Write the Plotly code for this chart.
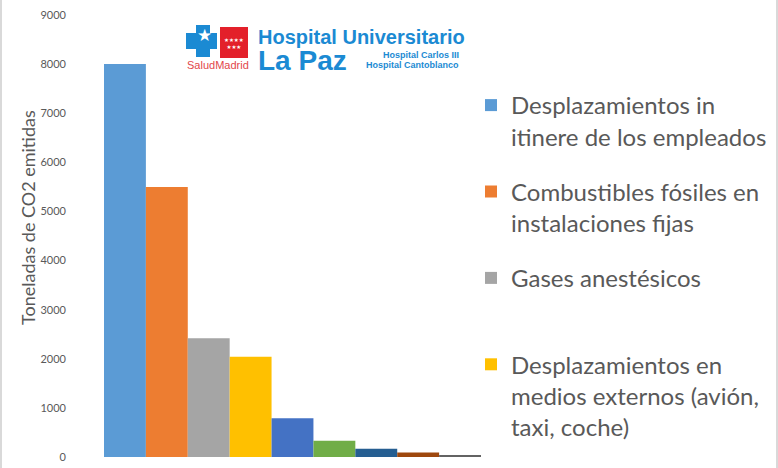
import plotly.graph_objects as go

W, H = 778, 468

categories = [
    "Desplazamientos in<br>itinere de los empleados",
    "Combustibles fósiles en<br>instalaciones fijas",
    "Gases anestésicos<br>\u00a0",
    "Desplazamientos en<br>medios externos (avión,<br>taxi, coche)",
    "Otra fuente 5",
    "Otra fuente 6",
    "Otra fuente 7",
    "Otra fuente 8",
    "Otra fuente 9",
]
values = [8000, 5500, 2420, 2040, 790, 330, 170, 90, 30]
colors = ["#5B9BD5", "#ED7D31", "#A5A5A5", "#FFC000", "#4472C4",
          "#70AD47", "#255E91", "#9E480E", "#636363"]
in_legend = [True, True, True, True, False, False, False, False, False]
y_ticks = [0, 1000, 2000, 3000, 4000, 5000, 6000, 7000, 8000, 9000]
y_title = "Toneladas de CO2 emitidas"


def px(x):
    return x / W


def py(y):
    return 1 - y / H


fig = go.Figure()
for i, (c, v, col, leg) in enumerate(zip(categories, values, colors, in_legend)):
    fig.add_trace(go.Bar(
        x=[i], y=[v], name=c, width=1,
        marker=dict(color=col, line=dict(width=0)),
        showlegend=leg, legendgroup=f"g{i}",
    ))

TXT = "#595959"
FONT = "Lato"

fig.update_layout(
    width=W, height=H,
    margin=dict(l=0, r=0, t=0, b=0, autoexpand=False),
    paper_bgcolor="white", plot_bgcolor="white",
    barmode="overlay",
    xaxis=dict(domain=[px(104), px(481)], range=[-0.5, 8.5],
               showticklabels=False, showgrid=False, zeroline=False,
               showline=False, fixedrange=True),
    yaxis=dict(domain=[py(457), py(15)], range=[0, 9000],
               anchor="free", position=px(66),
               tickvals=y_ticks, ticktext=[str(t) for t in y_ticks],
               tickfont=dict(family=FONT, size=11, color=TXT),
               showgrid=False, zeroline=False, showline=False),
    legend=dict(x=px(471), y=py(83), xanchor="left", yanchor="top",
                font=dict(family=FONT, size=24, color=TXT),
                valign="top", tracegroupgap=21, traceorder="grouped",
                bgcolor="rgba(0,0,0,0)"),
    showlegend=True,
)

ann = []
ann.append(dict(text=y_title, x=px(28), y=py(218), xref="paper", yref="paper",
                xanchor="center", yanchor="middle",
                textangle=-90, showarrow=False,
                font=dict(family=FONT, size=18, color=TXT)))

BLUE = "#1B8AD3"
RED = "#E3202A"
LOGO = "Liberation Sans"
ann += [
    dict(text="<b>Hospital Universitario</b><br><b><span style='font-size:28px'>La Paz</span></b>",
         x=px(256), y=py(24), xanchor="left", yanchor="top", align="left",
         showarrow=False, font=dict(family=LOGO, size=20, color=BLUE)),
    dict(text="<b>Hospital Carlos III</b>", x=px(461), y=py(55), xanchor="right",
         yanchor="middle", showarrow=False, font=dict(family=LOGO, size=9, color=BLUE)),
    dict(text="<b>Hospital Cantoblanco</b>", x=px(461), y=py(65), xanchor="right",
         yanchor="middle", showarrow=False, font=dict(family=LOGO, size=9, color=BLUE)),
    dict(text="SaludMadrid", x=px(185), y=py(65), xanchor="left",
         yanchor="middle", showarrow=False, font=dict(family=LOGO, size=11, color="#E2474B")),
    dict(text="★★★★<br>★★★", x=px(234), y=py(43), xanchor="center",
         yanchor="middle", showarrow=False,
         font=dict(family="DejaVu Sans", size=5.5, color="white")),
    dict(text="★", x=px(204), y=py(35), xanchor="center",
         yanchor="middle", showarrow=False, font=dict(family="DejaVu Sans", size=17, color="white")),
]
for a in ann:
    a.setdefault("xref", "paper")
    a.setdefault("yref", "paper")
fig.update_layout(annotations=ann)


def pth(points):
    return "M " + " L ".join(f"{px(x):.5f},{py(y):.5f}" for x, y in points) + " Z"


shapes = [
    dict(type="rect", xref="paper", yref="paper", x0=px(220), x1=px(248),
         y0=py(58), y1=py(27), fillcolor=RED, line=dict(width=0), layer="below"),
    dict(type="path", xref="paper", yref="paper",
         path=pth([(196, 25), (210, 25), (210, 33), (217, 33), (217, 49), (210, 49),
                   (210, 57), (196, 57), (196, 49), (186, 49), (186, 33), (196, 33)]),
         fillcolor=BLUE, line=dict(width=0), layer="below"),
    dict(type="line", xref="paper", yref="paper", x0=px(1), x1=px(1), y0=0, y1=1,
         line=dict(color="#D9D9D9", width=2)),
    dict(type="line", xref="paper", yref="paper", x0=px(777), x1=px(777), y0=0, y1=1,
         line=dict(color="#D9D9D9", width=2)),
]
fig.update_layout(shapes=shapes)

fig.write_html("out.html", config={"displayModeBar": False},
               post_script="document.body.style.margin='0px';document.body.style.overflow='hidden';")
